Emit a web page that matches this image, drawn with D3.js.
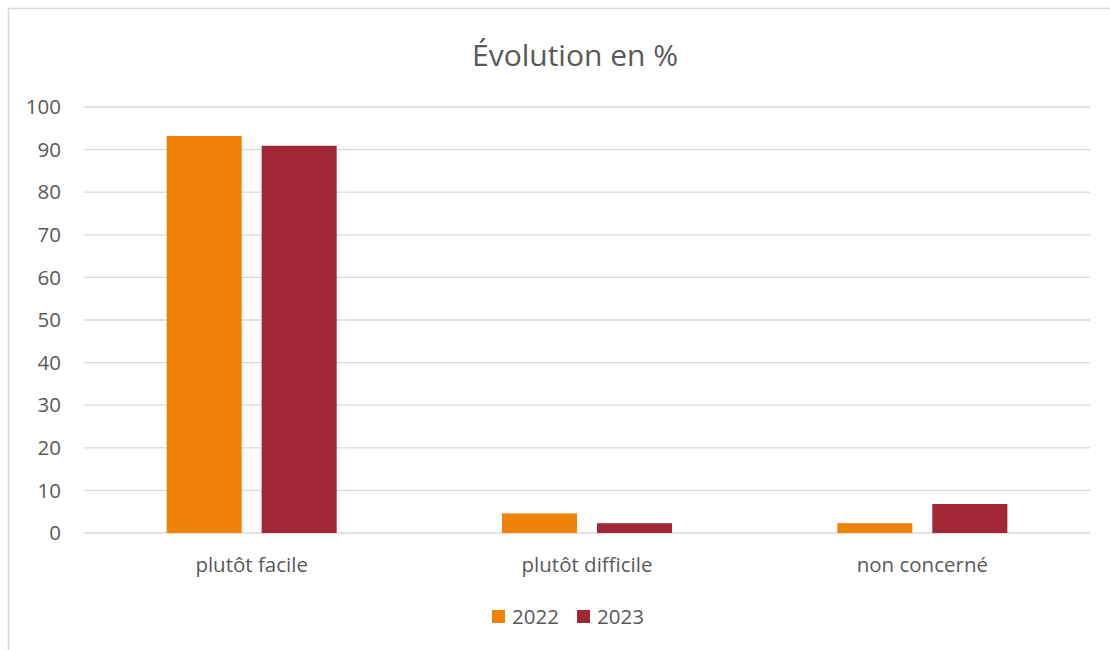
<!DOCTYPE html>
<html>
<head>
<meta charset='utf-8' />
<title>Évolution en %</title>
<style>
  body { margin: 0; background: #fff; }
  svg text { font-family: 'Open Sans', Lato, sans-serif; fill: #595959; }
</style>
</head>
<body>
<div id="wrapper"></div>
<script src='https://d3js.org/d3.v7.min.js' charset='utf-8'></script>
<script>
  const categories = ['plutôt facile', 'plutôt difficile', 'non concerné']
  const seriesNames = ['2022', '2023']
  const values2022 = [93.2, 4.6, 2.3]
  const values2023 = [90.9, 2.3, 6.8]
  const yTicks = [0, 10, 20, 30, 40, 50, 60, 70, 80, 90, 100]
  const colors = ['#F0820A', '#A12737']

  const data = categories.map((c, i) => ({
    cat: c,
    vals: [
      { s: seriesNames[0], v: values2022[i] },
      { s: seriesNames[1], v: values2023[i] }
    ]
  }))

  const W = 1110, H = 650
  const margin = { left: 84, right: 20, top: 107, bottom: 117 }
  const fs = 20.5

  const svg = d3.select('#wrapper')
    .append('svg')
      .attr('width', W)
      .attr('height', H)

  // chart border
  svg.append('rect')
    .attr('x', 8.5).attr('y', 8.5)
    .attr('width', W + 20).attr('height', H + 20)
    .attr('fill', 'none')
    .attr('stroke', '#d9d9d9')
    .attr('stroke-width', 1.5)

  const x0 = d3.scaleBand()
    .domain(categories)
    .range([margin.left, W - margin.right])

  const x1 = d3.scaleBand()
    .domain(seriesNames)
    .range([0, x0.bandwidth()])
    .paddingInner(0.21)
    .paddingOuter(0.87)

  const y = d3.scaleLinear()
    .domain([0, 100])
    .range([H - margin.bottom, margin.top])

  // gridlines
  svg.append('g')
    .selectAll('line')
    .data(yTicks)
    .join('line')
      .attr('x1', margin.left)
      .attr('x2', W - margin.right)
      .attr('y1', d => y(d))
      .attr('y2', d => y(d))
      .attr('stroke', '#d9d9d9')
      .attr('stroke-width', 1.3)

  // y labels
  svg.append('g')
    .selectAll('text')
    .data(yTicks)
    .join('text')
      .attr('x', 61)
      .attr('y', d => y(d))
      .attr('dy', '0.35em')
      .attr('text-anchor', 'end')
      .attr('font-size', fs)
      .text(d => d)

  // bars
  svg.append('g')
    .selectAll('g')
    .data(data)
    .join('g')
      .attr('transform', d => `translate(${x0(d.cat)},0)`)
    .selectAll('rect')
    .data(d => d.vals)
    .join('rect')
      .attr('x', d => x1(d.s))
      .attr('width', x1.bandwidth())
      .attr('y', d => y(d.v))
      .attr('height', d => y(0) - y(d.v))
      .attr('fill', (d, i) => colors[i])

  // category labels
  svg.append('g')
    .selectAll('text')
    .data(categories)
    .join('text')
      .attr('x', d => x0(d) + x0.bandwidth() / 2)
      .attr('y', 565)
      .attr('dy', '0.35em')
      .attr('text-anchor', 'middle')
      .attr('font-size', fs)
      .text(d => d)

  // title
  svg.append('text')
    .attr('x', 575)
    .attr('y', 55)
    .attr('dy', '0.35em')
    .attr('text-anchor', 'middle')
    .attr('font-size', 30)
    .text('Évolution en %')

  // legend
  const legend = svg.append('g')
  const legX = [492, 577]
  seriesNames.forEach((s, i) => {
    legend.append('rect')
      .attr('x', legX[i])
      .attr('y', 610)
      .attr('width', 13)
      .attr('height', 13)
      .attr('fill', colors[i])
    legend.append('text')
      .attr('x', legX[i] + 20)
      .attr('y', 617)
      .attr('dy', '0.35em')
      .attr('font-size', fs)
      .text(s)
  })
</script>
</body>
</html>
